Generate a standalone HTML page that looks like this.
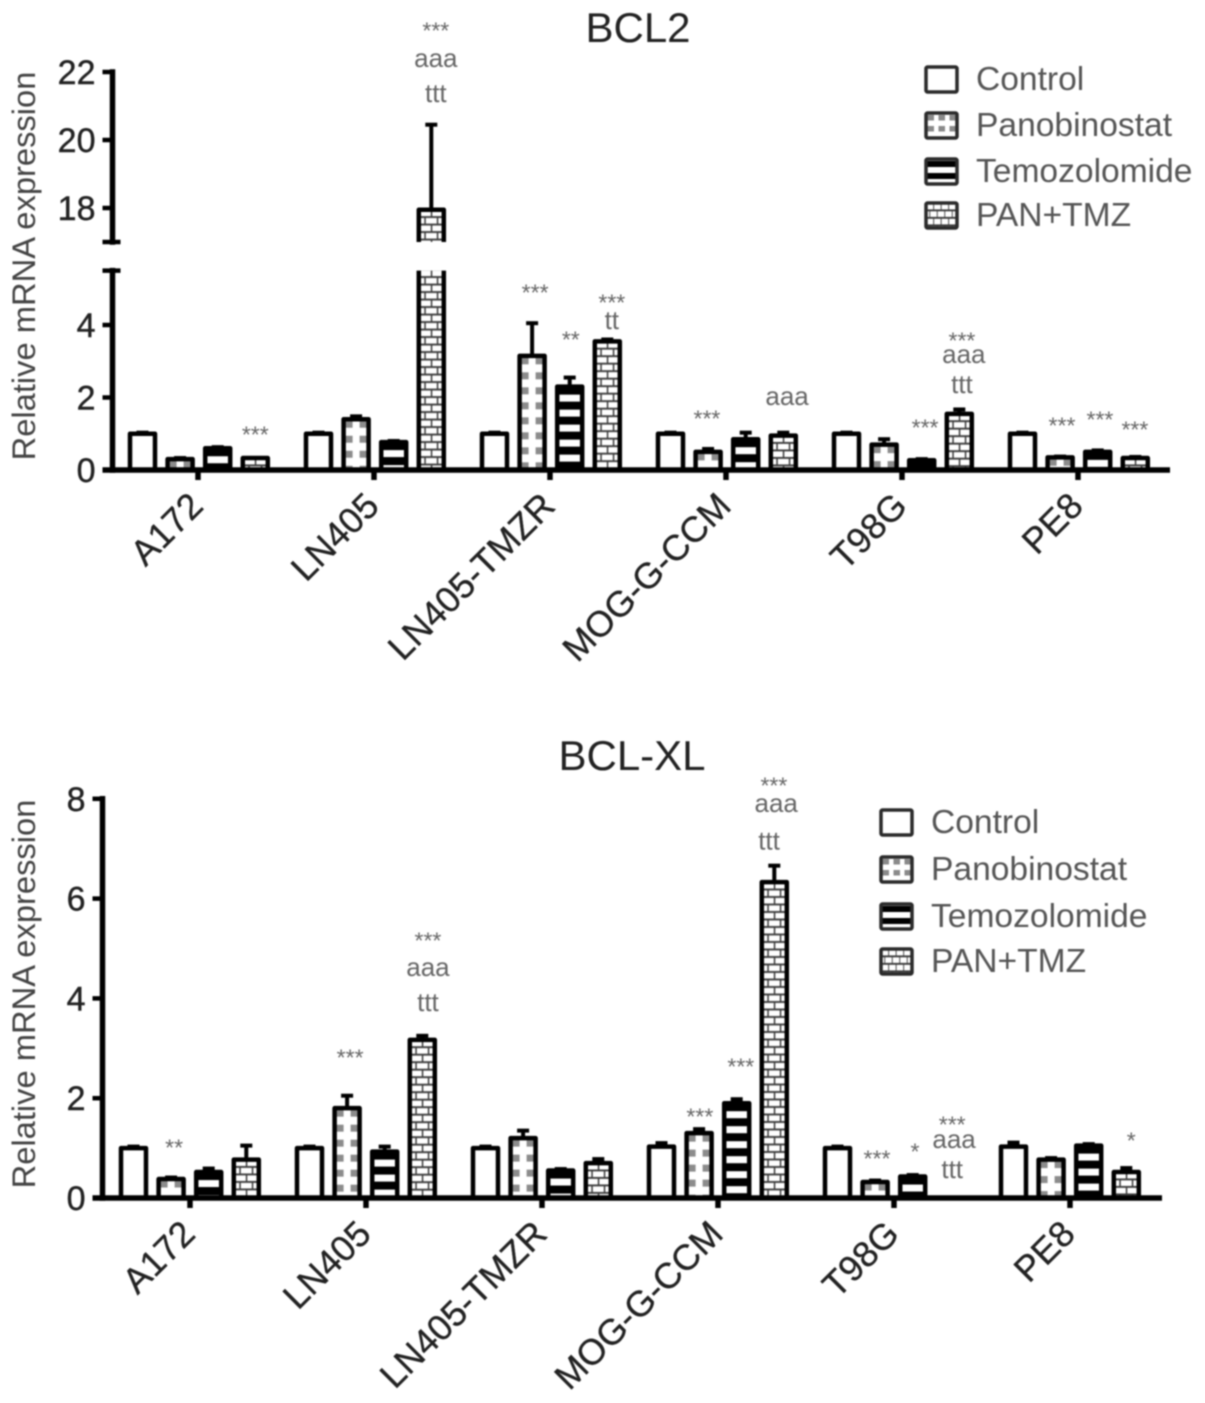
<!DOCTYPE html>
<html lang="en">
<head>
<meta charset="utf-8">
<title>BCL2 and BCL-XL relative mRNA expression</title>
<style>
html,body{margin:0;padding:0;background:#fff;}
#figure{display:block;width:1205px;height:1403px;filter:blur(0.7px);font-family:"Liberation Sans",Arial,sans-serif;}
</style>
</head>
<body>
<svg id="figure" xmlns="http://www.w3.org/2000/svg" width="1205" height="1403" viewBox="0 0 1205 1403">
<defs id="pattern-defs"></defs>
</svg>
<script>
const cellLines = ['A172', 'LN405', 'LN405-TMZR', 'MOG-G-CCM', 'T98G', 'PE8'];
const seriesNames = ['Control', 'Panobinostat', 'Temozolomide', 'PAN+TMZ'];

const bcl2Control = [1.0, 1.0, 1.0, 1.0, 1.0, 1.0];
const bcl2Panobinostat = [0.3, 1.4, 3.15, 0.5, 0.7, 0.35];
const bcl2Temozolomide = [0.6, 0.77, 2.3, 0.85, 0.27, 0.5];
const bcl2PanTmz = [0.33, 17.95, 3.55, 0.95, 1.55, 0.33];
const bcl2ControlErr = [0.03, 0.03, 0.03, 0.03, 0.03, 0.03];
const bcl2PanobinostatErr = [0.03, 0.08, 0.9, 0.08, 0.15, 0.02];
const bcl2TemozolomideErr = [0.03, 0.03, 0.25, 0.18, 0.03, 0.04];
const bcl2PanTmzErr = [0.0, 2.5, 0.05, 0.08, 0.12, 0.03];
const bcl2Ticks = [0, 2, 4, 18, 20, 22];

const bcl2NoteText = ['***', '***', 'aaa', 'ttt', '***', '**', '***', 'tt', '***', 'aaa', '***', '***', 'aaa', 'ttt', '***', '***', '***'];
const bcl2NoteCell = [0, 1, 1, 1, 2, 2, 2, 2, 3, 3, 4, 4, 4, 4, 5, 5, 5];
const bcl2NoteSlot = [3, 3.12, 3.12, 3.12, 1.08, 2.03, 3.12, 3.12, 0.97, 3.1, 2.09, 3.07, 3.12, 3.07, 1.05, 2.06, 2.99];
const bcl2NoteLevel = [1.05, 23.3, 22.35, 21.38, 4.97, 3.67, 4.69, 4.14, 1.49, 1.99, 1.24, 3.64, 3.14, 2.37, 1.3, 1.46, 1.19];

const bclxlControl = [1.0, 1.0, 1.0, 1.03, 1.0, 1.03];
const bclxlPanobinostat = [0.38, 1.8, 1.2, 1.3, 0.32, 0.77];
const bclxlTemozolomide = [0.52, 0.93, 0.55, 1.9, 0.43, 1.05];
const bclxlPanTmz = [0.77, 3.17, 0.7, 6.33, 0, 0.52];
const bclxlControlErr = [0.03, 0.03, 0.03, 0.07, 0.03, 0.08];
const bclxlPanobinostatErr = [0.03, 0.25, 0.15, 0.08, 0.03, 0.03];
const bclxlTemozolomideErr = [0.07, 0.1, 0.03, 0.08, 0.03, 0.03];
const bclxlPanTmzErr = [0.28, 0.08, 0.08, 0.33, 0, 0.08];
const bclxlTicks = [0, 2, 4, 6, 8];

const bclxlNoteText = ['**', '***', '***', 'aaa', 'ttt', '***', '***', '***', 'aaa', 'ttt', '***', '*', '***', 'aaa', 'ttt', '*'];
const bclxlNoteCell = [0, 1, 1, 1, 1, 3, 3, 3, 3, 3, 4, 4, 4, 4, 4, 5];
const bclxlNoteSlot = [1.08, 1.08, 3.15, 3.15, 3.15, 1.02, 2.11, 2.99, 3.05, 2.86, 1.05, 2.06, 3.05, 3.1, 3.05, 3.13];
const bclxlNoteLevel = [1.06, 2.87, 5.21, 4.59, 3.93, 1.68, 2.69, 8.32, 7.88, 7.17, 0.84, 0.98, 1.52, 1.14, 0.58, 1.2];

const SVGNS = 'http://www.w3.org/2000/svg';
const svg = document.getElementById('figure');
const defs = document.getElementById('pattern-defs');
let patternCounter = 0;

function make(parent, tag, attrs, text) {
  const el = document.createElementNS(SVGNS, tag);
  for (const key in attrs) el.setAttribute(key, attrs[key]);
  if (text !== undefined) el.textContent = text;
  parent.appendChild(el);
  return el;
}

/* Axis functions */
function bcl2Y(v) {
  return v <= 5.5 ? 470 - 36.25 * v : 208 - (v - 18) * 34;
}
function bclxlY(v) {
  return 1198 - 49.9 * v;
}

/* Fill patterns anchored to each bar */
function makeFill(seriesIndex, x, top, w, legend) {
  if (seriesIndex === 0) return '#fff';
  const id = 'fill-' + (patternCounter++);
  if (seriesIndex === 1) {
    const tw = legend ? 11 : w;
    const th = legend ? 11 : 15;
    const p = make(defs, 'pattern', {id: id, patternUnits: 'userSpaceOnUse', x: x + (legend ? 0.5 : 0), y: top, width: tw, height: th});
    make(p, 'rect', {x: 0, y: 0, width: tw, height: th, fill: '#fff'});
    if (legend) {
      make(p, 'rect', {x: 1, y: 2, width: 6.5, height: 5.5, fill: '#8a8a8a'});
    } else {
      make(p, 'rect', {x: 2, y: 1.5, width: 7, height: 7, fill: '#8c8c8c'});
      make(p, 'rect', {x: 16, y: 1.5, width: 7, height: 7, fill: '#8c8c8c'});
    }
  } else if (seriesIndex === 2) {
    const th = legend ? 12 : 15;
    const p = make(defs, 'pattern', {id: id, patternUnits: 'userSpaceOnUse', x: x, y: legend ? top + 2 : top, width: w, height: th});
    make(p, 'rect', {x: 0, y: 0, width: w, height: th, fill: '#000'});
    make(p, 'rect', {x: 0, y: legend ? 6 : 8, width: w, height: legend ? 6 : 7, fill: '#fff'});
  } else {
    const tw = legend ? 15 : w;
    const p = make(defs, 'pattern', {id: id, patternUnits: 'userSpaceOnUse', x: x, y: top, width: tw, height: 15});
    make(p, 'rect', {x: 0, y: 0, width: tw, height: 15, fill: '#3a3a3a'});
    const m = tw / 25;
    make(p, 'rect', {x: 1 * m, y: 0.8, width: 11 * m, height: 5.6, fill: '#fff'});
    make(p, 'rect', {x: 13.5 * m, y: 0.8, width: 11 * m, height: 5.6, fill: '#fff'});
    make(p, 'rect', {x: 0, y: 8.3, width: 5.5 * m, height: 5.6, fill: '#fff'});
    make(p, 'rect', {x: 7 * m, y: 8.3, width: 11 * m, height: 5.6, fill: '#fff'});
    make(p, 'rect', {x: 19.5 * m, y: 8.3, width: 5.5 * m, height: 5.6, fill: '#fff'});
  }
  return 'url(#' + id + ')';
}

function noteBaseline(center, text, size) {
  if (text.charAt(0) === '*') return center + 0.46 * size;
  if (text.charAt(0) === 'a') return center + 0.27 * size;
  return center + 0.35 * size;
}

function renderChart(cfg) {
  const root = make(svg, 'g', {});
  
  

  const xBar = function (cell, slot) { return cfg.startX + 176 * cell + 37.6 * slot; };
  const xTick = function (cell) { return cfg.tickStartX + 176 * cell; };

  const title = make(root, 'text', {x: cfg.titleX, y: cfg.titleY, 'text-anchor': 'middle', 'font-size': 42, fill: '#222'}, cfg.title);
  
  

  const yTitle = make(root, 'text', {transform: 'translate(35,' + cfg.yTitleCenter + ') rotate(-90)', 'text-anchor': 'middle', 'font-size': 32.7, fill: '#444'}, 'Relative mRNA expression');
  
  

  /* bars and error bars */
  cfg.values.forEach(function (seriesValues, s) {
    seriesValues.forEach(function (value, c) {
      if (value === 0) return;
      const g = make(root, 'g', {});
      
      
      const cx = xBar(c, s);
      const top = cfg.y(value);
      const base = cfg.y(0);
      const w = 25;
      const x = cx - w / 2;
      const err = cfg.errors[s][c];
      if (err > 0) {
        const errTop = cfg.y(value + err);
        make(g, 'line', {x1: cx, x2: cx, y1: top, y2: errTop, stroke: '#000', 'stroke-width': 4});
        make(g, 'line', {x1: cx - 6, x2: cx + 6, y1: errTop, y2: errTop, stroke: '#000', 'stroke-width': 4});
      }
      const fill = makeFill(s, x, top, w, false);
      if (cfg.breakLow !== undefined && value > cfg.breakLow) {
        const lowY = cfg.y(cfg.breakLow);
        const highY = cfg.y(cfg.breakHigh);
        make(g, 'rect', {x: x, y: lowY, width: w, height: base - lowY, fill: fill});
        make(g, 'path', {d: 'M' + x + ' ' + base + 'V' + lowY + 'M' + (x + w) + ' ' + lowY + 'V' + base, fill: 'none', stroke: '#000', 'stroke-width': 4.5});
        make(g, 'rect', {x: x, y: top, width: w, height: highY - top, fill: fill});
        make(g, 'path', {d: 'M' + x + ' ' + highY + 'V' + top + 'H' + (x + w) + 'V' + highY, fill: 'none', stroke: '#000', 'stroke-width': 4.5, 'stroke-linejoin': 'round'});
      } else {
        make(g, 'path', {d: 'M' + x + ' ' + base + 'V' + top + 'H' + (x + w) + 'V' + base, fill: fill, stroke: '#000', 'stroke-width': 4.5, 'stroke-linejoin': 'round'});
      }
    });
  });

  /* y axis */
  const axisX = cfg.axisX;
  const yAxis = make(root, 'g', {});
  
  
  cfg.axisSpans.forEach(function (span) {
    make(yAxis, 'line', {x1: axisX, x2: axisX, y1: cfg.y(span[0]), y2: cfg.y(span[1]), stroke: '#000', 'stroke-width': 5.5, 'stroke-linecap': 'square'});
  });
  if (cfg.breakLow !== undefined) {
    [cfg.breakLow, cfg.breakHigh].forEach(function (v) {
      make(yAxis, 'line', {x1: axisX - 10, x2: axisX + 8, y1: cfg.y(v), y2: cfg.y(v), stroke: '#000', 'stroke-width': 4.5});
    });
  }
  cfg.ticks.forEach(function (t) {
    make(yAxis, 'line', {x1: axisX - 10, x2: axisX, y1: cfg.y(t), y2: cfg.y(t), stroke: '#000', 'stroke-width': 4.5});
    const label = make(yAxis, 'text', {x: axisX - 17, y: cfg.y(t) + 12, 'text-anchor': 'end', 'font-size': 34, fill: '#222', stroke: '#222', 'stroke-width': 0.4}, String(t));
    
    
  });

  /* x axis */
  const xAxis = make(root, 'g', {});
  
  
  const base = cfg.y(0);
  make(xAxis, 'line', {x1: axisX - 10, x2: cfg.axisEnd, y1: base, y2: base, stroke: '#000', 'stroke-width': 5.5});
  cellLines.forEach(function (name, c) {
    const tx = xTick(c);
    make(xAxis, 'line', {x1: tx, x2: tx, y1: base, y2: base + 10, stroke: '#000', 'stroke-width': 5.5});
    const label = make(xAxis, 'text', {transform: 'translate(' + (tx + 7) + ',' + (base + 38) + ') rotate(-45)', 'text-anchor': 'end', 'font-size': 36, fill: '#222', stroke: '#222', 'stroke-width': 0.3}, name);
    
    
  });

  /* significance notes */
  cfg.noteText.forEach(function (text, i) {
    const size = text.charAt(0) === '*' ? 23 : 26;
    const yPos = noteBaseline(cfg.y(cfg.noteLevel[i]), text, size);
    const note = make(root, 'text', {x: xBar(cfg.noteCell[i], cfg.noteSlot[i]), y: yPos, 'text-anchor': 'middle', 'font-size': size, fill: '#666'}, text);
    
    
  });

  /* legend */
  const legend = make(root, 'g', {});
  
  
  seriesNames.forEach(function (name, s) {
    const top = cfg.legendTops[s];
    const entry = make(legend, 'g', {});
    
    
    const fill = makeFill(s, cfg.legendX, top, 30, true);
    make(entry, 'rect', {x: cfg.legendX, y: top, width: 31, height: 25, rx: 1.5, fill: fill, stroke: '#2a2a2a', 'stroke-width': 3.5});
    make(entry, 'text', {x: cfg.legendX + 50, y: top + 23, 'font-size': 33.6, fill: '#555'}, name);
  });
}

renderChart({
  key: 'bcl2', title: 'BCL2', titleX: 638, titleY: 42, yTitleCenter: 266,
  y: bcl2Y, startX: 142.5, tickStartX: 198, axisX: 112.5, axisEnd: 1170,
  breakLow: 5.5, breakHigh: 17,
  axisSpans: [[0, 5.5], [17, 22]],
  ticks: bcl2Ticks,
  values: [bcl2Control, bcl2Panobinostat, bcl2Temozolomide, bcl2PanTmz],
  errors: [bcl2ControlErr, bcl2PanobinostatErr, bcl2TemozolomideErr, bcl2PanTmzErr],
  noteText: bcl2NoteText, noteCell: bcl2NoteCell, noteSlot: bcl2NoteSlot, noteLevel: bcl2NoteLevel,
  legendX: 926, legendTops: [67, 113, 159, 203]
});

renderChart({
  key: 'bcl-xl', title: 'BCL-XL', titleX: 632, titleY: 770, yTitleCenter: 994,
  y: bclxlY, startX: 133.5, tickStartX: 190, axisX: 102.5, axisEnd: 1162,
  axisSpans: [[0, 8]],
  ticks: bclxlTicks,
  values: [bclxlControl, bclxlPanobinostat, bclxlTemozolomide, bclxlPanTmz],
  errors: [bclxlControlErr, bclxlPanobinostatErr, bclxlTemozolomideErr, bclxlPanTmzErr],
  noteText: bclxlNoteText, noteCell: bclxlNoteCell, noteSlot: bclxlNoteSlot, noteLevel: bclxlNoteLevel,
  legendX: 881, legendTops: [810, 857, 904, 949]
});
</script>
</body>
</html>
